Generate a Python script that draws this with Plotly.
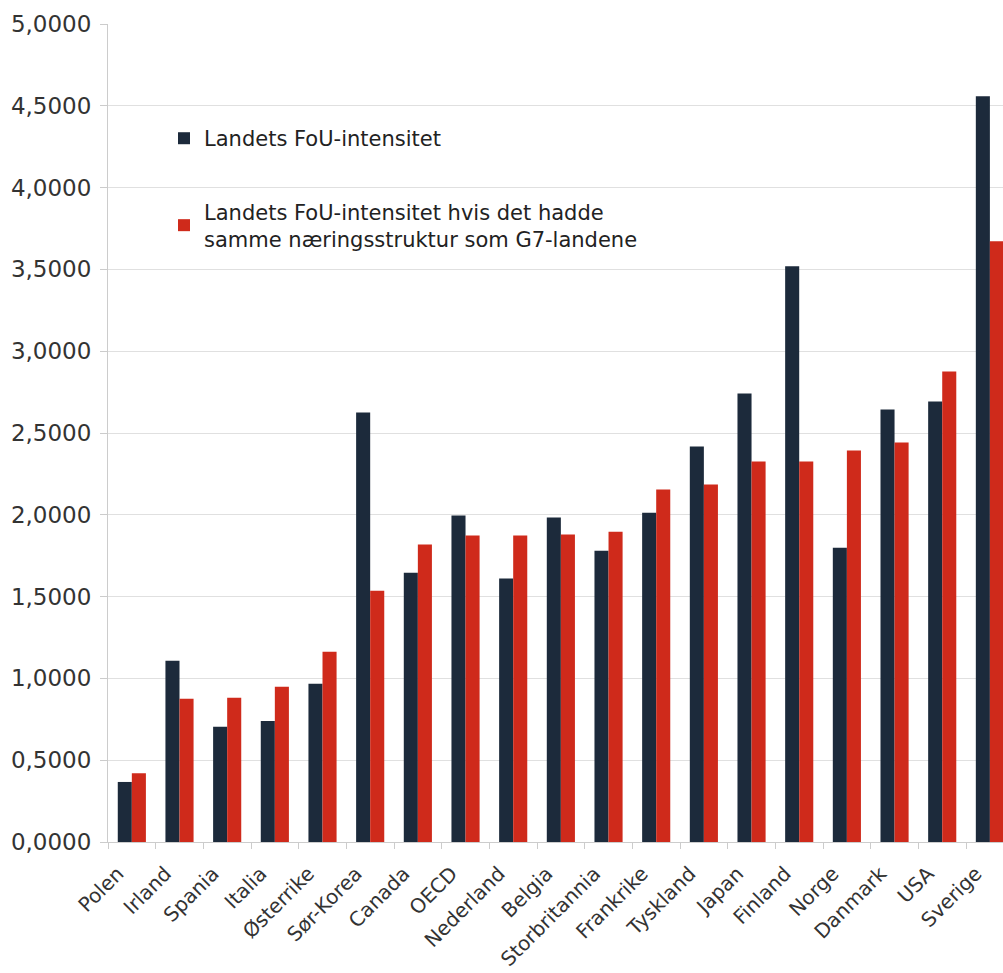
import plotly.graph_objects as go

countries = ["Polen", "Irland", "Spania", "Italia", "Østerrike", "Sør-Korea", "Canada",
             "OECD", "Nederland", "Belgia", "Storbritannia", "Frankrike", "Tyskland",
             "Japan", "Finland", "Norge", "Danmark", "USA", "Sverige"]

fou_intensitet = [0.367, 1.108, 0.704, 0.740, 0.967, 2.625, 1.646,
                  1.995, 1.610, 1.983, 1.781, 2.013, 2.417,
                  2.742, 3.519, 1.799, 2.644, 2.693, 4.559]

fou_g7_struktur = [0.420, 0.875, 0.881, 0.949, 1.163, 1.536, 1.818,
                   1.873, 1.873, 1.879, 1.897, 2.154, 2.185,
                   2.326, 2.326, 2.393, 2.442, 2.876, 3.672]

name_1 = "Landets FoU-intensitet"
name_2 = "Landets FoU-intensitet hvis det hadde<br>samme næringsstruktur som G7-landene"

dark = "#1c2a3b"
red = "#cf2a1b"
font_family = "DejaVu Sans, Verdana, sans-serif"

fig = go.Figure()
fig.add_trace(go.Bar(x=countries, y=fou_intensitet, name=name_1,
                     marker=dict(color=dark, line=dict(width=0)), legendgroup="a"))
fig.add_trace(go.Bar(x=countries, y=fou_g7_struktur, name=name_2,
                     marker=dict(color=red, line=dict(width=0)), legendgroup="b"))

fig.update_layout(
    width=1003, height=973,
    margin=dict(l=108, r=0, t=24, b=131),
    paper_bgcolor="white", plot_bgcolor="white",
    separators=", ",
    barmode="group", bargap=0.41, bargroupgap=0,
    font=dict(family=font_family, color="#333333", size=19),
    showlegend=True,
    legend=dict(x=0.0626, y=0.885, xanchor="left", yanchor="top",
                bgcolor="rgba(255,255,255,0)", font=dict(size=21, color="#222222"),
                tracegroupgap=43, traceorder="grouped", itemwidth=30),
)
fig.update_xaxes(range=[-0.5, 18.275], tickangle=-45, ticks="outside", tickson="boundaries",
                 ticklen=6, tickcolor="#cccccc", showline=True, linecolor="#cccccc",
                 showgrid=False, tickfont=dict(size=20, color="#333333"),
                 ticklabelshift=-14, ticklabelstandoff=11, automargin=False)
fig.update_yaxes(range=[0, 5], dtick=0.5, tickformat=".4f", ticks="outside", ticklen=7,
                 tickcolor="#cccccc", showline=True, linecolor="#cccccc",
                 showgrid=True, gridcolor="#e0e0e0", gridwidth=1, zeroline=False,
                 tickfont=dict(size=23, color="#333333"), ticklabelstandoff=4,
                 automargin=False)

fig.write_html("out.html", config={"displayModeBar": False},
               post_script="document.body.style.margin='0';document.body.style.overflow='hidden';")
